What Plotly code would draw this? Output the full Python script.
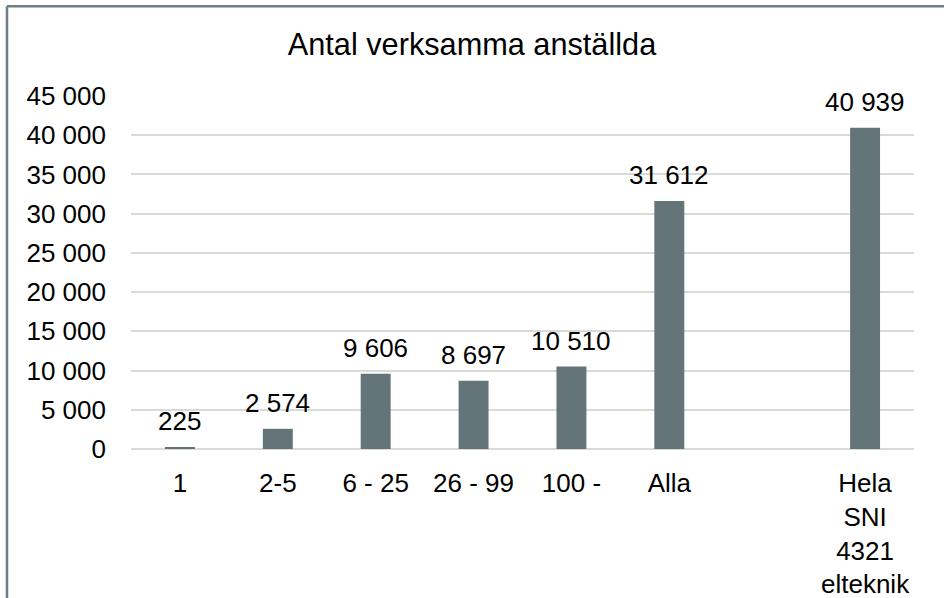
import plotly.graph_objects as go

# data
categories = ["1", "2-5", "6 - 25", "26 - 99", "100 -", "Alla", " ", "Hela<br>SNI<br>4321<br>elteknik"]
employees = [225, 2574, 9606, 8697, 10510, 31612, None, 40939]

BAR = "#637579"
GRID = "#d9d9d9"
FRAME = "#6f7f86"
FONT = "Liberation Sans, Arial, sans-serif"

fig = go.Figure()
fig.add_trace(
    go.Bar(
        x=categories,
        y=employees,
        marker=dict(color=BAR, line=dict(width=0)),
        hoverinfo="skip",
    )
)

# value labels above the bars (x given as category index so "1" is not read as a position)
for i, val in enumerate(employees):
    if val is None:
        continue
    fig.add_annotation(
        x=i,
        y=val,
        text=f"{val:,}".replace(",", " "),
        showarrow=False,
        yanchor="bottom",
        yshift=9,
        font=dict(size=26, color="#000000", family=FONT),
    )

# chart frame (only top and left edges are visible in the crop)
fig.add_shape(type="line", xref="paper", yref="paper",
              x0=-0.1584, x1=1.05, y0=1.2541, y1=1.2541,
              line=dict(color=FRAME, width=2.5), layer="above")
fig.add_shape(type="line", xref="paper", yref="paper",
              x0=-0.1584, x1=-0.1584, y0=-0.5, y1=1.2541,
              line=dict(color=FRAME, width=2.5), layer="above")

fig.update_layout(
    width=944,
    height=598,
    autosize=False,
    margin=dict(l=131, r=30, t=96, b=149),
    paper_bgcolor="white",
    plot_bgcolor="white",
    showlegend=False,
    bargap=0.694,
    separators=", ",
    font=dict(family=FONT, size=26, color="#000000"),
    title=dict(
        text="Antal verksamma anställda",
        x=0.5,
        xref="container",
        y=1 - 44 / 598,
        yanchor="middle",
        font=dict(size=30.7, color="#000000", family=FONT),
    ),
)

fig.update_xaxes(
    type="category",
    categoryorder="array",
    categoryarray=categories,
    automargin=False,
    showgrid=False,
    showline=False,
    ticks="",
    ticklabelstandoff=16,
    tickfont=dict(size=26, color="#000000"),
)
fig.update_yaxes(
    range=[0, 45000],
    dtick=5000,
    tickformat=",d",
    automargin=False,
    showgrid=True,
    gridcolor=GRID,
    gridwidth=1.5,
    zeroline=True,
    zerolinecolor=GRID,
    zerolinewidth=1.5,
    showline=False,
    ticks="",
    ticklabelstandoff=24,
    tickfont=dict(size=26, color="#000000"),
)

# drop the default page margin so the figure sits at the window's top-left corner
fig.write_html(
    "out.html",
    config={"displayModeBar": False},
    post_script="document.body.style.margin='0';",
)
